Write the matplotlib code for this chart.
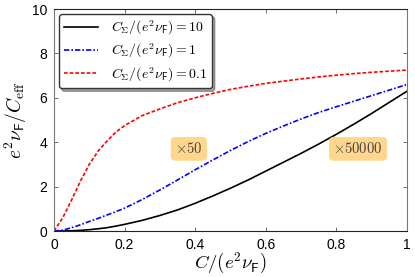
import matplotlib
matplotlib.use('Agg')
import matplotlib.pyplot as plt
import numpy as np

plt.rcParams['mathtext.fontset'] = 'cm'
plt.rcParams['font.family'] = ['Liberation Sans', 'DejaVu Sans']

# C/(e^2 nu_F) sample points
x_pts = [0.0, 0.025, 0.05, 0.075, 0.1, 0.125, 0.15, 0.175, 0.2, 0.25, 0.3, 0.35, 0.4,
         0.45, 0.5, 0.55, 0.6, 0.65, 0.7, 0.75, 0.8, 0.85, 0.9, 0.95, 1.0]
# C_Sigma/(e^2 nu_F) = 10  (x50000)
y_10 = [0.0, 0.0, 0.01, 0.03, 0.06, 0.1, 0.15, 0.22, 0.3, 0.48, 0.7, 0.95, 1.25,
        1.58, 1.93, 2.3, 2.7, 3.1, 3.5, 3.92, 4.36, 4.82, 5.3, 5.8, 6.3]
# C_Sigma/(e^2 nu_F) = 1  (x50)
y_1 = [0.0, 0.04, 0.15, 0.28, 0.43, 0.57, 0.72, 0.87, 1.03, 1.42, 1.85, 2.3, 2.76,
       3.2, 3.63, 4.03, 4.4, 4.73, 5.05, 5.34, 5.6, 5.85, 6.1, 6.35, 6.6]
# C_Sigma/(e^2 nu_F) = 0.1
y_01 = [0.0, 0.6, 1.4, 2.25, 3.0, 3.6, 4.05, 4.45, 4.75, 5.2, 5.5, 5.78, 6.0,
        6.2, 6.38, 6.52, 6.65, 6.75, 6.85, 6.94, 7.02, 7.09, 7.15, 7.2, 7.25]

labels = [r'$C_\Sigma/(e^2\nu_\mathsf{F}) = 10$',
          r'$C_\Sigma/(e^2\nu_\mathsf{F}) = 1$',
          r'$C_\Sigma/(e^2\nu_\mathsf{F}) = 0.1$']
factors = [r'$\times 50$', r'$\times 50000$']
factor_pos = [(0.382, 3.7), (0.861, 3.7)]

fig = plt.figure(figsize=(4.15, 2.77), dpi=100)
ax = fig.add_axes([0.130, 0.166, 0.851, 0.8015])

ax.plot(x_pts, y_10, color='black', lw=1.2, ls='-', label=labels[0])
ax.plot(x_pts, y_1, color='blue', lw=1.2, ls=(0, (3.2, 1.2, 1, 1.2)), label=labels[1])
ax.plot(x_pts, y_01, color='red', lw=1.2, ls=(0, (2.2, 1.2)), label=labels[2])

ax.set_xlim(0, 1)
ax.set_ylim(0, 10)
ax.set_xticks([0, 0.2, 0.4, 0.6, 0.8, 1])
ax.set_xticklabels(['0', '0.2', '0.4', '0.6', '0.8', '1'])
ax.set_yticks([0, 2, 4, 6, 8, 10])
ax.tick_params(direction='in', length=3, width=0.6, color='#555555',
               top=True, right=True, labelsize=10, pad=5)

for side in ['left', 'right']:
    ax.spines[side].set_color('#777777')
for side in ['top', 'bottom']:
    ax.spines[side].set_color('#222222')

ax.set_xlabel(r'$C/(e^2\nu_\mathsf{F})$', fontsize=13.5, labelpad=-1)
ax.set_ylabel(r'$e^2\nu_\mathsf{F}/C_\mathrm{eff}$', fontsize=14, labelpad=2)

for txt, (tx, ty) in zip(factors, factor_pos):
    ax.text(tx, ty, txt, fontsize=10.5, ha='center', va='center', color='#444444',
            bbox=dict(boxstyle='round,pad=0.3', facecolor='#FFD27F', edgecolor='none', alpha=0.9))

leg = ax.legend(loc='upper left', fontsize=10, frameon=True, fancybox=True, shadow=True,
                handlelength=2.5, borderaxespad=0.35, labelspacing=0.35, borderpad=0.35,
                handletextpad=0.9)
leg.get_frame().set_edgecolor('#333333')
leg.get_frame().set_linewidth(1.0)
leg.get_frame().set_alpha(1)

fig.savefig('out.png', dpi=100)
